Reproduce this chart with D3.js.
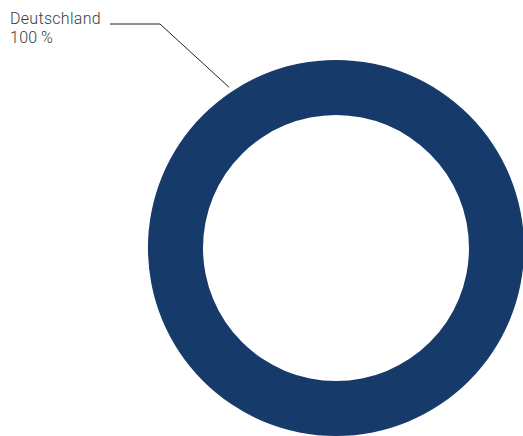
<!DOCTYPE html>
<html><head><meta charset="utf-8">
<script src="https://cdn.jsdelivr.net/npm/d3@7"></script>
<style>body{margin:0;background:#fff}svg{display:block}</style>
</head><body>
<svg id="c" width="523" height="436"></svg>
<script>
const categories = ["Deutschland"];
const values = [100];
const labels = ["100\u2009%"];
const colors = ["#163a6a"];

const svg = d3.select("#c");
const cx = 336, cy = 248, rOuter = 188, rInner = 133;
const g = svg.append("g").attr("transform", `translate(${cx},${cy})`);
const pie = d3.pie().sort(null).value(d => d)(values);
const arc = d3.arc().innerRadius(rInner).outerRadius(rOuter);
g.selectAll("path").data(pie).enter().append("path")
  .attr("d", arc).attr("fill", (d, i) => colors[i]);

// leader line
const ang = -0.587; // radians from 12 o'clock
const rEnd = 193;
const p0 = [cx + rEnd * Math.sin(ang), cy - rEnd * Math.cos(ang)];
const p1 = [160, 24];
const p2 = [110, 24];
svg.append("path")
  .attr("d", d3.line()([p0, p1, p2]))
  .attr("fill", "none").attr("stroke", "#222").attr("stroke-width", 1);

const t = svg.append("text")
  .attr("font-family", "Roboto, 'DejaVu Sans', sans-serif")
  .attr("font-size", 16).attr("letter-spacing", 0.3)
  .attr("font-weight", 300).attr("fill", "#3a3a3a");
t.append("tspan").attr("x", 10).attr("y", 24).text(categories[0]);
t.append("tspan").attr("x", 10).attr("y", 43).text(labels[0]);
</script>
</body></html>
